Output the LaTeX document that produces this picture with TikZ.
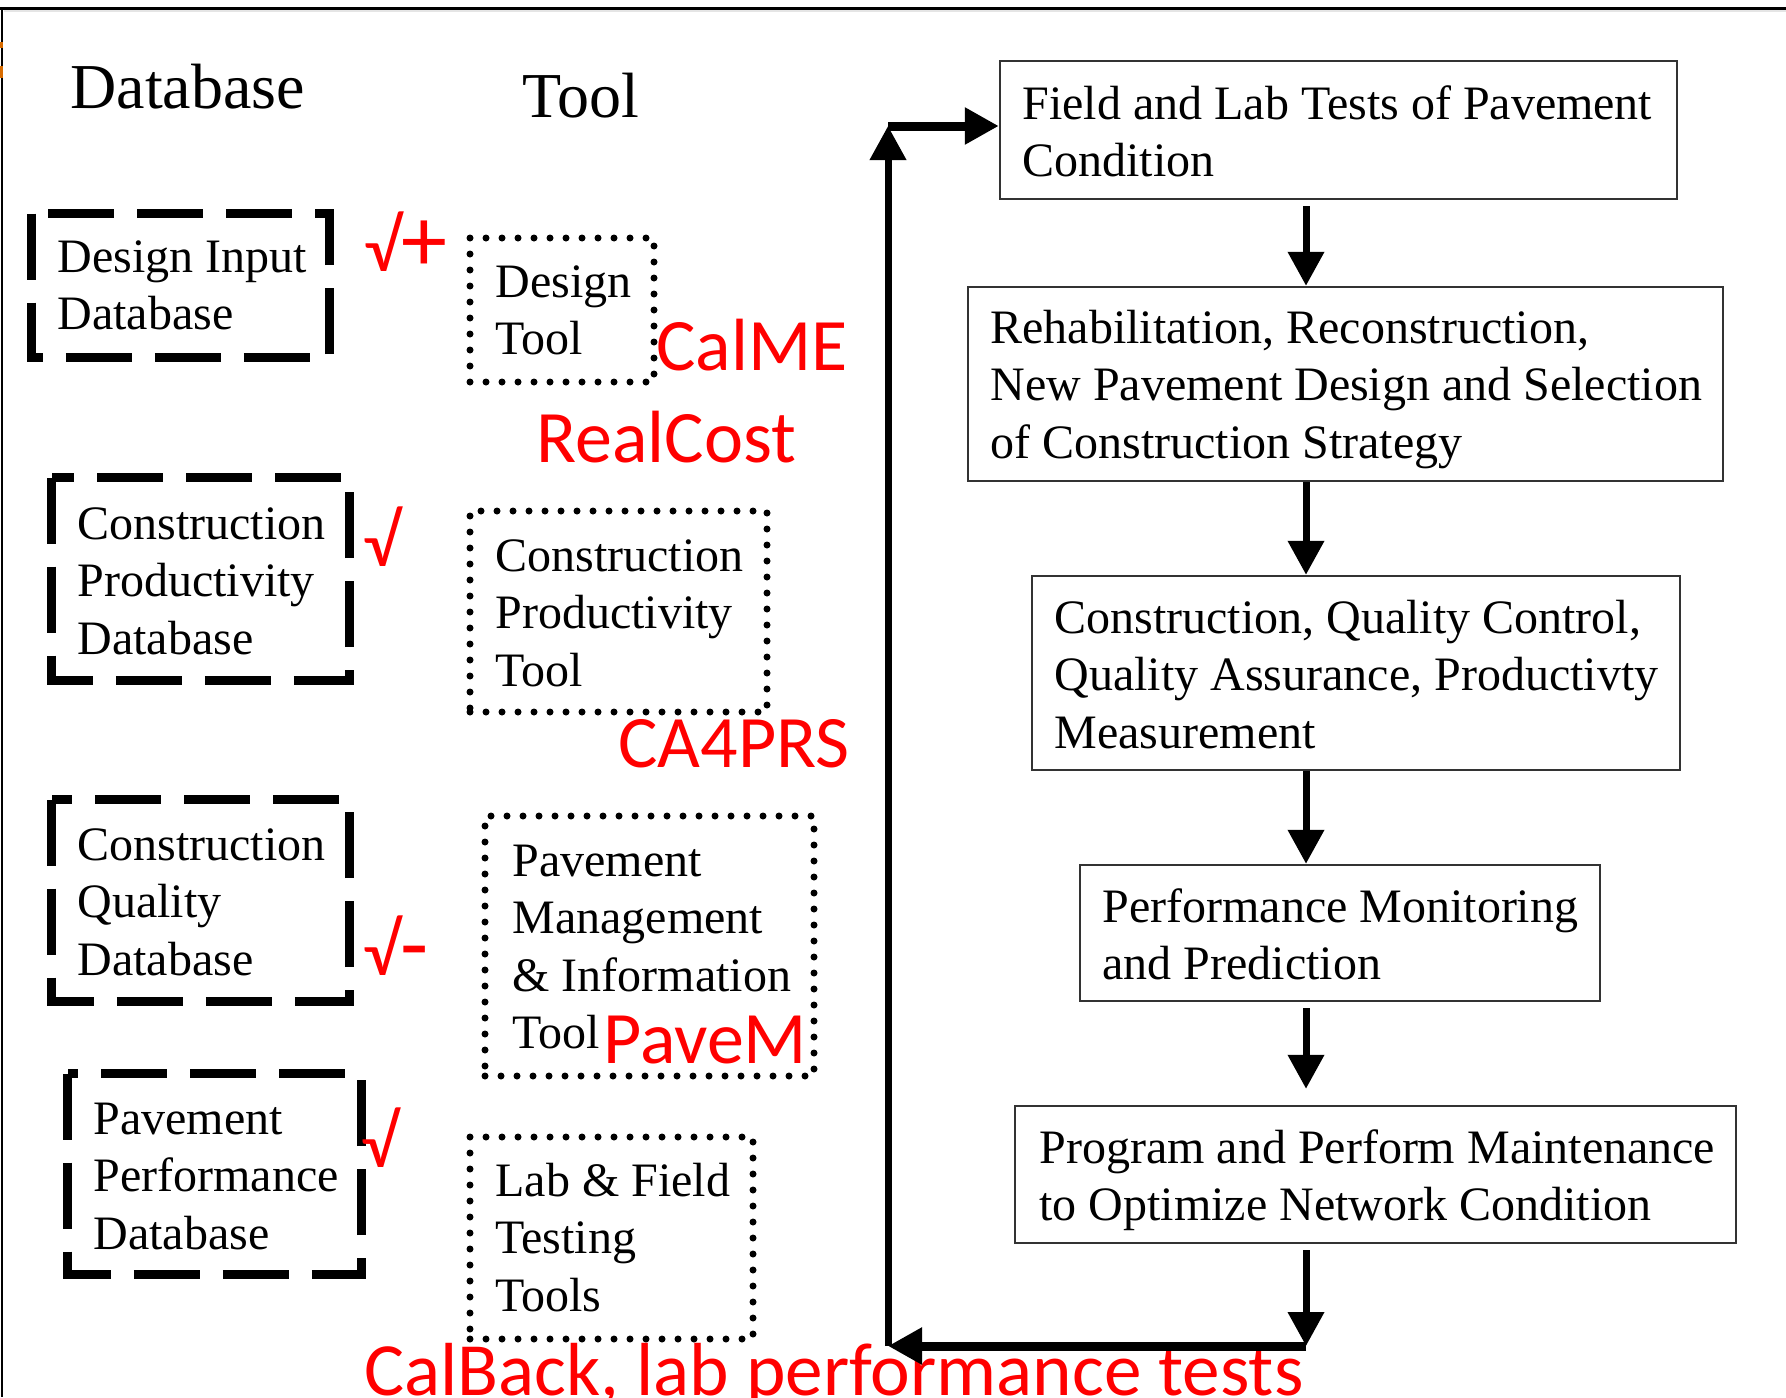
\documentclass[tikz,border=0pt]{standalone}
\usepackage{fontspec}
\setmainfont{Liberation Serif}
\newfontfamily\notefont{Carlito}
\usetikzlibrary{arrows.meta,fit,calc}

\tikzset{
  boxtext/.style={anchor=base west, inner sep=0pt, text width=420pt, align=flush left,
    font=\fontsize{24pt}{28.75pt}\selectfont},
  headtext/.style={anchor=base west, inner sep=0pt,
    font=\fontsize{32pt}{36pt}\selectfont},
  note/.style={anchor=base west, inner sep=0pt, text=red,
    font=\notefont\fontsize{37pt}{40pt}\selectfont},
  stagebox/.style={draw=black!80, line width=1.2pt, inner sep=0pt},
  area/.style={inner sep=0pt},
  dbframe/.style={line width=4.5pt, dash pattern=on 33pt off 11.5pt},
  toolbox/.style={draw, inner sep=0pt, line width=3.5pt, line cap=round,
    dash pattern=on 0pt off 8pt},
  flow/.style={line width=3.5pt, -{Triangle[length=17pt,width=17.5pt]}},
  flowwide/.style={flow, line width=4.5pt},
}
\newcommand{\bigsign}[1]{{\fontsize{46pt}{40pt}\selectfont #1}}

\begin{document}
\begin{tikzpicture}[x=0.5pt, y=-0.5pt]
  \useasboundingbox (0,0) rectangle (1786,1397);
  \fill[white] (0,0) rectangle (1786,1397);

  % page edges
  \draw[black!10, line width=1pt] (4,11) -- (1786,11);
  \draw[line width=1.5pt] (0,8) -- (1786,8);
  \draw[line width=1.2pt] (2,8) -- (2,1397);
  \fill[orange!85!black] (0,42) rectangle (3,48);
  \fill[orange!85!black] (0,66) rectangle (3,78);

  % column headings
  \node[headtext] (hdb) at (70,108) {Database};
  \node[headtext] (htool) at (522,117) {Tool};

  % databases (dashed frames)
  \node[area, fit={(32,214) (329,357)}] (db1) {};
  \node[area, fit={(52,478) (349,680)}] (db2) {};
  \node[area, fit={(52,800) (349,1001)}] (db3) {};
  \node[area, fit={(68,1074) (361,1274)}] (db4) {};
  \foreach \d in {db1,db2,db3,db4}
    \draw[dbframe] (\d.north west) -- (\d.south west) -- (\d.south east)
      -- (\d.north east) -- cycle;

  \node[boxtext] (db1t) at (57,272) {Design Input\\Database};
  \node[boxtext] (db2t) at (77,539) {Construction\\Productivity\\Database};
  \node[boxtext] (db3t) at (77,860) {Construction\\Quality\\Database};
  \node[boxtext] (db4t) at (93,1134) {Pavement\\Performance\\Database};

  % tools (dotted frames)
  \node[toolbox, fit={(470,238) (654,382)}] (tl1) {};
  \node[toolbox, fit={(470,511) (767,712)}] (tl2) {};
  \node[toolbox, fit={(485,816) (814,1076)}] (tl3) {};
  \node[toolbox, fit={(470,1137) (753,1339)}] (tl4) {};

  \node[boxtext] (tl1t) at (495,297) {Design\\Tool};
  \node[boxtext] (tl2t) at (495,571) {Construction\\Productivity\\Tool};
  \node[boxtext] (tl3t) at (512,876) {Pavement\\Management\\\& Information\\Tool};
  \node[boxtext] (tl4t) at (495,1196) {Lab \& Field\\Testing\\Tools};

  % red annotations
  \node[note] (m1) at (364,271) {√\bigsign{+}};
  \node[note] (m2) at (363,566) {√};
  \node[note] (m3) at (363,975) {√\bigsign{-}};
  \node[note] (m4) at (361,1167) {√};
  \node[note] (n1) at (656,370) {CalME};
  \node[note] (n2) at (536,462) {RealCost};
  \node[note] (n3) at (618,767) {CA4PRS};
  \node[note] (n4) at (603,1063) {PaveM};
  \node[note, font=\notefont\fontsize{37.6pt}{40pt}\selectfont] (n5) at (364,1395)
    {CalBack, lab performance tests};

  % process stages
  \node[stagebox, fit={(1000,61) (1677,199)}] (s1) {};
  \node[stagebox, fit={(968,287) (1723,481)}] (s2) {};
  \node[stagebox, fit={(1032,576) (1680,770)}] (s3) {};
  \node[stagebox, fit={(1080,865) (1600,1001)}] (s4) {};
  \node[stagebox, fit={(1015,1106) (1736,1243)}] (s5) {};

  \node[boxtext] (s1t) at (1022,119) {Field and Lab Tests of Pavement\\Condition};
  \node[boxtext] (s2t) at (990,343) {Rehabilitation, Reconstruction,\\New Pavement Design and Selection\\of Construction Strategy};
  \node[boxtext] (s3t) at (1054,633) {Construction, Quality Control,\\Quality Assurance, Productivty\\Measurement};
  \node[boxtext] (s4t) at (1102,922) {Performance Monitoring\\and Prediction};
  \node[boxtext] (s5t) at (1039,1163) {Program and Perform Maintenance\\to Optimize Network Condition};

  % flow between stages and the feedback loop
  \coordinate (spine) at (1306,0);
  \coordinate (loopBR) at (1306,1346);
  \coordinate (loopBL) at (888,1346);
  \coordinate (loopTL) at (888,126);

  \draw[flow, shorten <=3pt] (s1.south -| spine) -- (s2.north -| spine);
  \draw[flow] (s2.south -| spine) -- (s3.north -| spine);
  \draw[flow] (s3.south -| spine) -- (s4.north -| spine);
  \draw[flow, shorten <=3pt, shorten >=8pt] (s4.south -| spine) -- (s5.north -| spine);
  \draw[flow, shorten <=3pt] (s5.south -| spine) -- (loopBR);
  \draw[flowwide] (loopBR) -- (loopBL);
  \draw[flow] (loopBL) -- (loopTL);
  \draw[flowwide] (loopTL) -- (s1.west |- loopTL);
\end{tikzpicture}
\end{document}
